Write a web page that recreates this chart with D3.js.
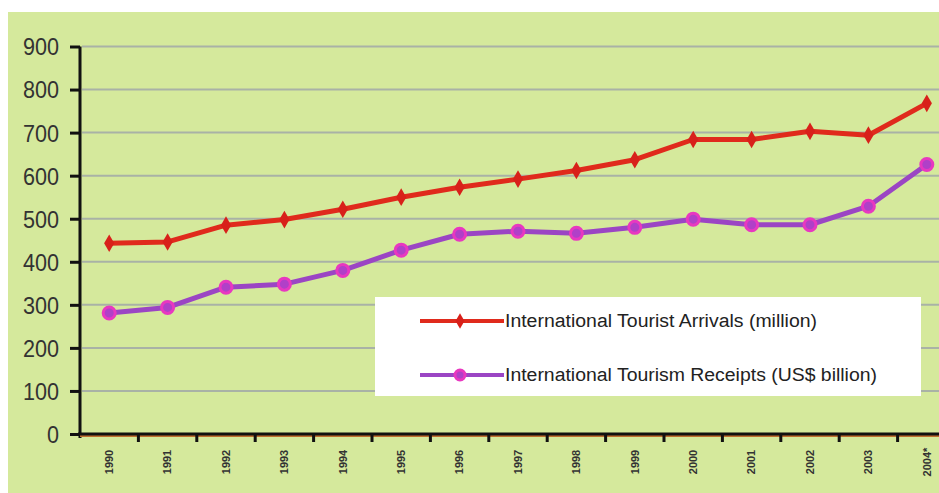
<!DOCTYPE html>
<html>
<head>
<meta charset="utf-8">
<script src="https://cdn.jsdelivr.net/npm/d3@7"></script>
<style>
  html, body { margin: 0; padding: 0; background: #ffffff; overflow: hidden; }
  svg { display: block; }
  text { font-family: "Liberation Sans", Arial, sans-serif; }
</style>
</head>
<body>
<svg id="chart" width="939" height="493"></svg>
<script>
const years = ["1990","1991","1992","1993","1994","1995","1996","1997","1998","1999","2000","2001","2002","2003","2004*"];
const arrivals = [443, 446, 485, 498, 522, 550, 573, 592, 612, 637, 684, 684, 703, 694, 768];
const receipts = [281, 294, 341, 348, 380, 427, 464, 471, 466, 480, 499, 486, 486, 529, 626];
const yTicks = [0, 100, 200, 300, 400, 500, 600, 700, 800, 900];
const seriesNames = ["International Tourist Arrivals (million)", "International Tourism Receipts (US$ billion)"];

const W = 939, H = 493;
const svg = d3.select("#chart");

// background
svg.append("rect").attr("x", 8).attr("y", 12).attr("width", W - 8).attr("height", H - 12).attr("fill", "#d5e99c");

const x = d3.scaleBand().domain(years).range([80, 956]);
const y = d3.scaleLinear().domain([0, 900]).range([434, 46.5]);

// gridlines
svg.append("g").selectAll("line").data(yTicks.filter(d => d > 0)).join("line")
  .attr("x1", 82).attr("x2", W).attr("y1", d => y(d)).attr("y2", d => y(d))
  .attr("stroke", "#a9b2a6").attr("stroke-width", 2);

// y axis
const yAxis = svg.append("g").attr("transform", "translate(80,0)")
  .call(d3.axisLeft(y).tickValues(yTicks).tickSize(10).tickPadding(10).tickFormat(d3.format("d")));
yAxis.select(".domain").attr("stroke", "#111").attr("stroke-width", 3).attr("d", "M0," + (y(900)) + "V" + (y(0) + 4));
yAxis.selectAll(".tick line").attr("stroke", "#111").attr("stroke-width", 3);
yAxis.selectAll(".tick text")
  .attr("fill", "#333").attr("font-size", 24).attr("dy", "0.35em")
  .attr("textLength", d => String(d).length * 12).attr("lengthAdjust", "spacingAndGlyphs")
  .attr("x", -21);

// x axis
svg.append("line").attr("x1", 80).attr("x2", W).attr("y1", y(0) + 2).attr("y2", y(0) + 2)
  .attr("stroke", "#c07030").attr("stroke-width", 2);
const xAxis = svg.append("g").attr("transform", "translate(0," + y(0) + ")")
  .call(d3.axisBottom(x).tickSize(0).tickFormat(""));
xAxis.select(".domain").attr("stroke", "#111").attr("stroke-width", 3).attr("d", "M78,0H" + W);
xAxis.selectAll(".tick").remove();
svg.append("g").selectAll("line").data(years.slice(1)).join("line")
  .attr("x1", d => x(d)).attr("x2", d => x(d)).attr("y1", y(0)).attr("y2", y(0) + 8)
  .attr("stroke", "#111").attr("stroke-width", 3);
svg.append("g").selectAll("text").data(years).join("text")
  .attr("transform", d => "translate(" + (x(d) + x.bandwidth() / 2) + ",462) rotate(-90)")
  .attr("text-anchor", "middle").attr("dy", "0.35em")
  .attr("font-size", 11).attr("font-weight", "bold").attr("fill", "#333")
  .text(d => d);

const cx = d => x(d) + x.bandwidth() / 2;
const line = d3.line().x((d, i) => cx(years[i])).y(d => y(d));

// arrivals
svg.append("path").datum(arrivals).attr("d", line).attr("fill", "none")
  .attr("stroke", "#e02a1c").attr("stroke-width", 5).attr("stroke-linejoin", "round");
svg.append("g").selectAll("path").data(arrivals).join("path")
  .attr("d", d3.symbol(d3.symbolDiamond, 90))
  .attr("transform", (d, i) => "translate(" + cx(years[i]) + "," + y(d) + ")")
  .attr("fill", "#d8201a");

// receipts
svg.append("path").datum(receipts).attr("d", line).attr("fill", "none")
  .attr("stroke", "#9b45c4").attr("stroke-width", 5).attr("stroke-linejoin", "round");
svg.append("g").selectAll("circle").data(receipts).join("circle")
  .attr("cx", (d, i) => cx(years[i])).attr("cy", d => y(d)).attr("r", 6)
  .attr("fill", "#b040c8").attr("stroke", "#e838c0").attr("stroke-width", 3);

// legend
const lg = svg.append("g");
lg.append("rect").attr("x", 375).attr("y", 297).attr("width", 546).attr("height", 99).attr("fill", "#ffffff");
const legendRows = [
  { name: seriesNames[0], color: "#e02a1c", y: 321, len: 312 },
  { name: seriesNames[1], color: "#9b45c4", y: 375, len: 372 }
];
legendRows.forEach((r, i) => {
  lg.append("line").attr("x1", 420).attr("x2", 504).attr("y1", r.y).attr("y2", r.y)
    .attr("stroke", r.color).attr("stroke-width", 4);
  if (i === 0) {
    lg.append("path").attr("d", d3.symbol(d3.symbolDiamond, 70)).attr("transform", "translate(460," + r.y + ")").attr("fill", "#d8201a");
  } else {
    lg.append("circle").attr("cx", 460).attr("cy", r.y).attr("r", 5).attr("fill", "#b040c8").attr("stroke", "#e838c0").attr("stroke-width", 3);
  }
  lg.append("text").attr("x", 505).attr("y", r.y).attr("dy", "0.35em")
    .attr("font-size", 18).attr("fill", "#222")
    .attr("textLength", r.len).attr("lengthAdjust", "spacingAndGlyphs")
    .text(r.name);
});
</script>
</body>
</html>
